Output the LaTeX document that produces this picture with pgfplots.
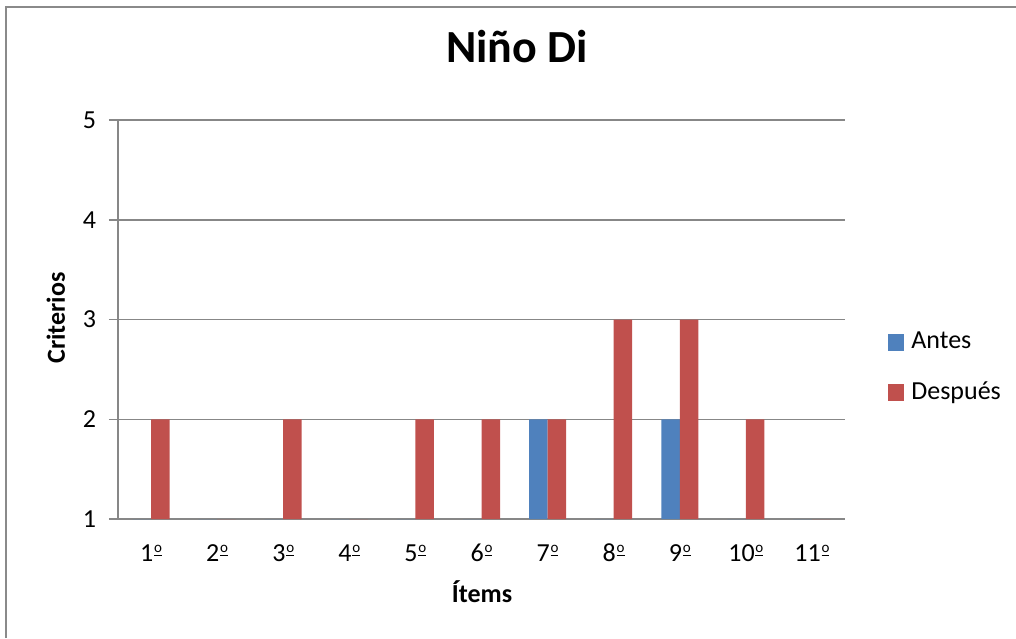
\documentclass[border=0pt]{standalone}
\usepackage{fontspec}
\setmainfont{Carlito}
\usepackage{pgfplots}
\pgfplotsset{compat=1.18}
\definecolor{antes}{HTML}{4F81BD}
\definecolor{despues}{HTML}{C0504D}
\definecolor{gridgray}{HTML}{878787}
\definecolor{framegray}{HTML}{8A8A8A}
% ordinal indicator: raised small o with a bar underneath
\newcommand{\ord}{\kern0.4pt\rlap{\raisebox{2.4pt}{\rule{3.9pt}{0.6pt}}}%
  \raisebox{4.2pt}{\fontsize{7.5}{7.5}\selectfont o}}

\begin{document}
\begin{tikzpicture}[x=0.5pt,y=0.5pt]
% page size and chart frame
\path[use as bounding box] (0,0) rectangle (1016,638);
\draw[framegray, line width=1pt] (6,0) -- (6,631) -- (1016,631);
\begin{axis}[
  at={(59pt,59.5pt)}, anchor=south west,
  scale only axis, width=363.5pt, height=199.5pt,
  ybar=0pt, bar width=9.25pt,
  xmin=0.5, xmax=11.5, ymin=1, ymax=5,
  xtick={1,...,11},
  xticklabels={1\ord,2\ord,3\ord,4\ord,5\ord,6\ord,7\ord,8\ord,9\ord,10\ord,11\ord},
  ytick={1,...,5},
  ymajorgrids,
  grid style={gridgray, line width=0.75pt},
  axis x line*=bottom, axis y line*=left,
  axis line style={gridgray, line width=0.75pt, -},
  tick align=outside, major tick length=4.5pt,
  xtick style={draw=none},
  ytick style={gridgray, line width=0.75pt},
  /pgf/number format/assume math mode=true,
  ticklabel style={font=\fontsize{13}{15}\selectfont},
  yticklabel style={anchor=east, xshift=-3pt},
  xticklabel style={anchor=base, yshift=-16.5pt},
  title={Niño Di},
  title style={at={(axis description cs:0.549,1.1128)}, anchor=base,
    font=\bfseries\fontsize{23}{27}\selectfont},
  xlabel={Ítems},
  xlabel style={at={(axis description cs:0.5007,-0.2105)}, anchor=base,
    font=\bfseries\fontsize{13}{15}\selectfont},
  ylabel={Criterios},
  ylabel style={at={(axis description cs:-0.0729,0.504)}, anchor=base, rotate=0,
    font=\bfseries\fontsize{13}{15}\selectfont},
  legend style={at={(axis description cs:1.0591,0.380)}, anchor=west,
    draw=none, fill=none, inner sep=0pt, row sep=11pt,
    font=\fontsize{13}{15}\selectfont,
    nodes={inner xsep=3.5pt}},
  legend cell align=left,
  legend image code/.code={\fill[#1] (0pt,-4.5pt) rectangle (8pt,4pt);},
]
\addplot[fill=antes, draw=none] coordinates
  {(1,1) (2,1) (3,1) (4,1) (5,1) (6,1) (7,2) (8,1) (9,2) (10,1) (11,1)};
\addplot[fill=despues, draw=none] coordinates
  {(1,2) (2,1) (3,2) (4,1) (5,2) (6,2) (7,2) (8,3) (9,3) (10,2) (11,1)};
\legend{Antes, Después}
\end{axis}
\end{tikzpicture}
\end{document}
